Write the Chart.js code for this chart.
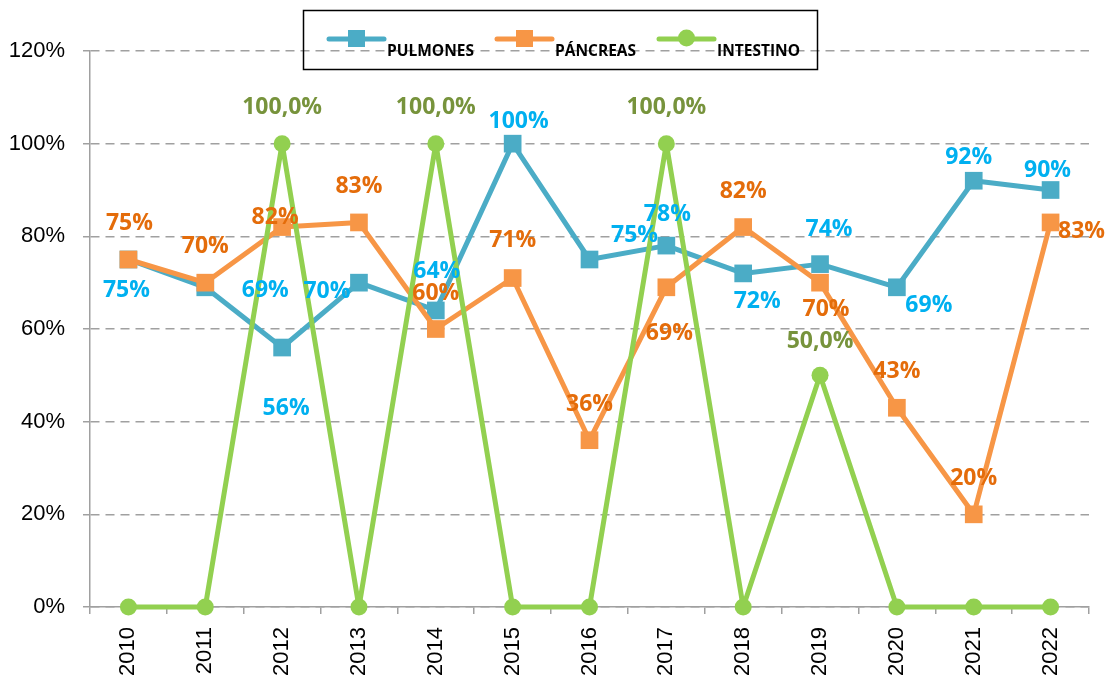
<!DOCTYPE html>
<html>
<head>
<meta charset="utf-8">
<script src="https://cdn.jsdelivr.net/npm/chart.js@4.4.0/dist/chart.umd.min.js"></script>
<style>
  html, body { margin: 0; padding: 0; background: #fff; }
  #wrap { width: 1110px; height: 678px; }
</style>
</head>
<body>
<div id="wrap"><canvas id="grafico"></canvas></div>
<script>
// Datos
const anos = ['2010', '2011', '2012', '2013', '2014', '2015', '2016', '2017', '2018', '2019', '2020', '2021', '2022'];
const pulmones = [75, 69, 56, 70, 64, 100, 75, 78, 72, 74, 69, 92, 90];
const pancreas = [75, 70, 82, 83, 60, 71, 36, 69, 82, 70, 43, 20, 83];
const intestino = [0, 0, 100, 0, 100, 0, 0, 100, 0, 50, 0, 0, 0];
const ticksY = [0, 20, 40, 60, 80, 100, 120];

// Desplazamiento de las etiquetas (px) respecto a cada punto
const offPulmones = [[-2, 31], [60, 3], [4, 61], [-32, 9], [1, -39], [6, -22], [45, -24], [1, -31], [14, 28], [9, -35], [32, 18], [-5, -23], [-3, -20]];
const offPancreas = [[1, -36], [0, -36], [-7, -10], [0, -36], [0, -36], [0, -38], [0, -36], [3, 46], [0, -36], [6, 27], [0, -36], [0, -36], [31, 9]];
const offIntestino = [[0, -36], [0, -36], [0, -36], [0, -36], [0, -36], [0, -36], [0, -36], [0, -36], [0, -36], [0, -34], [0, -36], [0, -36], [0, -36]];

const AZUL = '#4BACC6', NARANJA = '#F79646', VERDE = '#92D050';
const GRIS = '#A0A0A0';

// Etiquetas de datos
const etiquetas = {
    id: 'etiquetas',
    afterDatasetsDraw(chart) {
        const ctx = chart.ctx;
        ctx.save();
        ctx.font = 'bold 23px "Open Sans", sans-serif';
        ctx.textAlign = 'center';
        ctx.textBaseline = 'middle';
        chart.data.datasets.forEach((ds, i) => {
            const meta = chart.getDatasetMeta(i);
            meta.data.forEach((pt, j) => {
                const txt = ds.formato(ds.data[j]);
                if (!txt) return;
                const off = ds.offsets[j];
                ctx.fillStyle = ds.colorEtiqueta;
                ctx.fillText(txt, pt.x + off[0], pt.y + off[1]);
            });
        });
        ctx.restore();
    }
};

// Leyenda con recuadro
const leyenda = {
    id: 'leyenda',
    afterDraw(chart) {
        const ctx = chart.ctx;
        ctx.save();
        ctx.strokeStyle = '#000';
        ctx.lineWidth = 1.5;
        ctx.strokeRect(303.5, 10.5, 514, 59);
        const items = [
            { x: 329, texto: 'PULMONES', color: AZUL, forma: 'rect' },
            { x: 497, texto: 'PÁNCREAS', color: NARANJA, forma: 'rect' },
            { x: 659, texto: 'INTESTINO', color: VERDE, forma: 'circle' }
        ];
        items.forEach(it => {
            ctx.strokeStyle = it.color;
            ctx.fillStyle = it.color;
            ctx.lineWidth = 5;
            ctx.lineCap = 'round';
            ctx.beginPath();
            ctx.moveTo(it.x, 39);
            ctx.lineTo(it.x + 55, 39);
            ctx.stroke();
            if (it.forma === 'rect') {
                ctx.fillRect(it.x + 19, 30, 17, 17);
            } else {
                ctx.beginPath();
                ctx.arc(it.x + 27.5, 38, 8.5, 0, Math.PI * 2);
                ctx.fill();
            }
            ctx.fillStyle = '#000';
            ctx.font = 'bold 15.5px "Open Sans", sans-serif';
            ctx.textAlign = 'left';
            ctx.textBaseline = 'alphabetic';
            ctx.fillText(it.texto, it.x + 58, 56);
        });
        ctx.restore();
    }
};

const fmtEntero = v => Math.round(v) + '%';
const fmtDecimal = v => v === 0 ? '' : v.toFixed(1).replace('.', ',') + '%';

const estiloLinea = { borderWidth: 5, borderJoinStyle: 'round', borderCapStyle: 'round', pointBorderWidth: 0, clip: false, tension: 0 };

new Chart(document.getElementById('grafico'), {
    type: 'line',
    data: {
        labels: anos,
        datasets: [
            Object.assign({
                label: 'PULMONES', data: pulmones, order: 3,
                borderColor: AZUL, backgroundColor: AZUL,
                pointStyle: 'rect', pointRadius: 12.5,
                colorEtiqueta: '#00B0F0', offsets: offPulmones, formato: fmtEntero
            }, estiloLinea),
            Object.assign({
                label: 'PÁNCREAS', data: pancreas, order: 2,
                borderColor: NARANJA, backgroundColor: NARANJA,
                pointStyle: 'rect', pointRadius: 12.5,
                colorEtiqueta: '#E46C0A', offsets: offPancreas, formato: fmtEntero
            }, estiloLinea),
            Object.assign({
                label: 'INTESTINO', data: intestino, order: 1,
                borderColor: VERDE, backgroundColor: VERDE,
                pointStyle: 'circle', pointRadius: 8.5,
                colorEtiqueta: '#77933C', offsets: offIntestino, formato: fmtDecimal
            }, estiloLinea)
        ]
    },
    options: {
        responsive: true,
        maintainAspectRatio: false,
        animation: false,
        events: [],
        layout: { padding: { top: 51, right: 21, left: 0, bottom: 0 } },
        plugins: {
            legend: { display: false },
            tooltip: { enabled: false }
        },
        scales: {
            x: {
                offset: true,
                grid: { offset: true, drawOnChartArea: false, drawTicks: true, tickLength: 7, color: GRIS, lineWidth: 1.5 },
                border: { color: GRIS, width: 1.5 },
                ticks: {
                    autoSkip: false, minRotation: 90, maxRotation: 90, padding: 13,
                    color: '#000', font: { family: '"Liberation Sans", Arial, sans-serif', size: 22 }
                },
                afterFit: s => { s.height = 71; }
            },
            y: {
                min: 0, max: 120,
                afterBuildTicks: s => { s.ticks = ticksY.map(v => ({ value: v })); },
                grid: { color: GRIS, lineWidth: 1.5, tickLength: 7 },
                border: { color: GRIS, width: 1.5, dash: [9, 6] },
                ticks: {
                    padding: 18, color: '#000',
                    font: { family: '"Liberation Sans", Arial, sans-serif', size: 22 },
                    callback: v => v + '%'
                },
                afterFit: s => { s.width = 90; }
            }
        }
    },
    plugins: [etiquetas, leyenda]
});
</script>
</body>
</html>
